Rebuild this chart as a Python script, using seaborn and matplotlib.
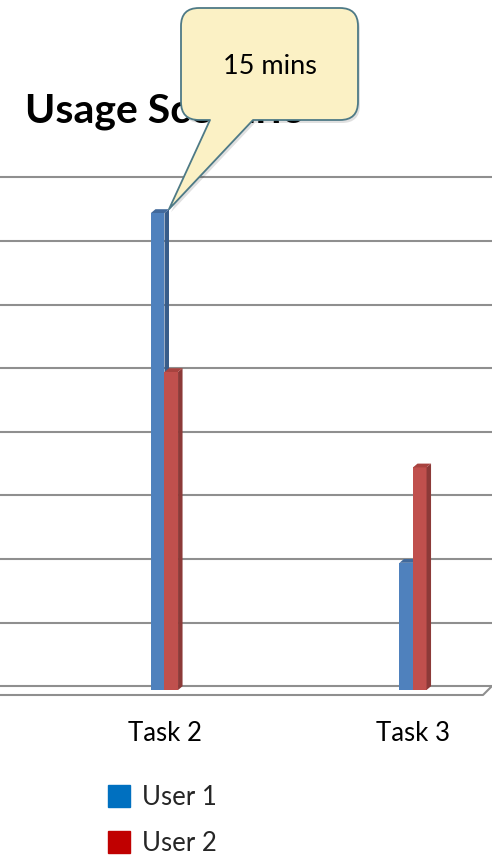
import numpy as np
import pandas as pd
import matplotlib
matplotlib.use("Agg")
import matplotlib.pyplot as plt
import matplotlib.transforms as mtransforms
from matplotlib.patches import Polygon, PathPatch
from matplotlib.path import Path
from matplotlib.lines import Line2D
import seaborn as sns

# ---------------- data ----------------
tasks = ["Task 2", "Task 3"]
user1 = [15, 4]
user2 = [10, 7]
series = ["User 1", "User 2"]
grid_values = [0, 2, 4, 6, 8, 10, 12, 14, 16]
title_text = "Usage Scenario"
callout_text = "15 mins"

bar_colors = {"User 1": "#4F81BD", "User 2": "#C0504D"}
side_colors = {"User 1": "#385D8A", "User 2": "#8C3A38"}
top_colors = {"User 1": "#41699B", "User 2": "#A8433F"}
legend_colors = {"User 1": "#0070C0", "User 2": "#C00000"}

df = pd.DataFrame({
    "Task": tasks * 2,
    "Minutes": user1 + user2,
    "User": [series[0]] * len(tasks) + [series[1]] * len(tasks),
})

# ---------------- figure ----------------
sns.set_style("white")
plt.rcParams["font.family"] = ["Lato", "DejaVu Sans"]

W, H, DPI = 492, 855, 100
fig = plt.figure(figsize=(W / DPI, H / DPI), dpi=DPI)
ax = fig.add_axes([0, 0, 1, 1])

sns.barplot(data=df, x="Task", y="Minutes", hue="User", order=tasks,
            hue_order=series, palette=bar_colors, width=0.109, gap=0,
            saturation=1, edgecolor="none", linewidth=0, legend=False, ax=ax)

PX_X = 248.5   # pixels per category
PX_Y = 31.8    # pixels per minute
X0 = 164.5     # pixel x of first category
Y0 = 690.0     # pixel y (from top) of value zero
ax.set_xlim(-X0 / PX_X, (W - X0) / PX_X)
ax.set_ylim(-(H - Y0) / PX_Y, Y0 / PX_Y)
ax.axis("off")

DX = 4.5 / PX_X   # 3-D depth offset (data units)
DY = 3.8 / PX_Y

# px (top-left origin) -> axes fraction transform
px_tr = mtransforms.Affine2D().scale(1 / W, -1 / H).translate(0, 1) + ax.transAxes

# back-wall gridlines
xl = ax.get_xlim()
for gv in grid_values:
    ax.plot([xl[0], xl[1]], [gv + DY, gv + DY], color="#8F8F8F", lw=1.5,
            zorder=0, solid_capstyle="butt")
# floor front edge with slanted right end
ax.plot([0, 483, 492], [Y0 + 5, Y0 + 5, Y0 - 4], color="#8F8F8F", lw=1.5,
        transform=px_tr, zorder=0)

# 3-D side and top faces for every bar
for i, (cont, name) in enumerate(zip(ax.containers, series)):
    for p in cont.patches:
        z = 2 + i
        p.set_zorder(z)
        x, w, h = p.get_x(), p.get_width(), p.get_height()
        side = Polygon([(x + w, 0), (x + w, h), (x + w + DX, h + DY), (x + w + DX, DY)],
                       closed=True, fc=side_colors[name], ec="none", zorder=z)
        top = Polygon([(x, h), (x + w, h), (x + w + DX, h + DY), (x + DX, h + DY)],
                      closed=True, fc=top_colors[name], ec="none", zorder=z)
        ax.add_patch(side)
        ax.add_patch(top)

# category labels
for i, t in enumerate(tasks):
    ax.text(i, (Y0 - 733) / PX_Y, t, ha="center", va="center", fontsize=18.5,
            color="#000000", zorder=5)

# title (partly hidden by the callout)
ax.text(25, 122, title_text, transform=px_tr, ha="left", va="baseline",
        fontsize=29.5, fontweight="bold", color="#000000", zorder=6)

# callout pointing at the highest bar
fig.canvas.draw()
bar = ax.containers[0].patches[0]
tip_disp = ax.transData.transform((bar.get_x() + bar.get_width() + DX,
                                   bar.get_height() + DY))
tip = (tip_disp[0], H - tip_disp[1])
L, R, T, B, r = 181, 358, 8, 120, 18
verts = [(L + r, T), (R - r, T), (R, T), (R, T + r), (R, B - r), (R, B), (R - r, B),
         (253, B), tip, (210, B), (L + r, B), (L, B), (L, B - r), (L, T + r),
         (L, T), (L + r, T), (L + r, T)]
codes = [Path.MOVETO, Path.LINETO, Path.CURVE3, Path.CURVE3, Path.LINETO, Path.CURVE3,
         Path.CURVE3, Path.LINETO, Path.LINETO, Path.LINETO, Path.LINETO, Path.CURVE3,
         Path.CURVE3, Path.LINETO, Path.CURVE3, Path.CURVE3, Path.CLOSEPOLY]
path = Path(verts, codes)
shadow_tr = mtransforms.Affine2D().translate(2, 3) + px_tr
ax.add_patch(PathPatch(path, transform=shadow_tr, fc="#000000", ec="none",
                       alpha=0.12, zorder=9))
ax.add_patch(PathPatch(path, transform=px_tr, fc="#FBF1C5", ec="#4E7A86",
                       lw=1.3, zorder=10, joinstyle="round"))
ax.text((L + R) / 2, 66, callout_text, transform=px_tr, ha="center", va="center",
        fontsize=19.5, color="#000000", zorder=11)

# legend
handles = [Line2D([], [], marker="s", ls="", markersize=15.5,
                  markerfacecolor=legend_colors[s], markeredgecolor=legend_colors[s])
           for s in series]
ax.legend(handles, series, loc="upper left", bbox_to_anchor=(106 / W, 1 - 785 / H),
          frameon=False, fontsize=18.5, handlelength=1.0, handletextpad=0.4,
          labelspacing=0.8, borderpad=0, borderaxespad=0)

fig.savefig("out.png", dpi=DPI, facecolor="white")
